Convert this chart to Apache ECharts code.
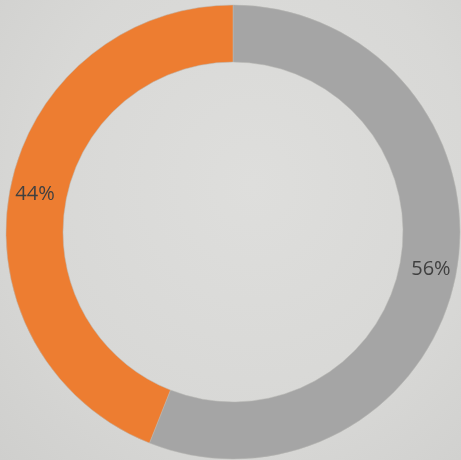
<!DOCTYPE html>
<html>
<head>
<meta charset="utf-8">
<script src="https://cdn.jsdelivr.net/npm/echarts@6/dist/echarts.min.js"></script>
<style>
  html, body { margin: 0; padding: 0; }
  body {
    width: 461px; height: 460px; overflow: hidden;
    background: radial-gradient(ellipse at 55% 40%, #dededc 0%, #d8d8d6 60%, #cfcfcd 100%);
  }
  #chart { width: 461px; height: 460px; }
</style>
</head>
<body>
<div id="chart"></div>
<script>
// Share split shown as a ring, starting at 12 o'clock and running clockwise
const categories = ['B', 'A'];
const shares = [56, 44];
const colors = ['#A5A5A5', '#ED7D31'];

const chart = echarts.init(document.getElementById('chart'), null, { renderer: 'canvas' });

chart.setOption({
  animation: false,
  backgroundColor: 'transparent',
  series: [{
    type: 'pie',
    center: [233, 232],
    radius: [170, 227],
    startAngle: 90,
    clockwise: true,
    avoidLabelOverlap: false,
    label: {
      show: true,
      position: 'inside',
      formatter: p => p.value + '%',
      color: '#404040',
      fontFamily: 'Open Sans',
      fontSize: 20
    },
    labelLine: { show: false },
    emphasis: { disabled: true },
    data: categories.map((name, i) => ({
      name,
      value: shares[i],
      itemStyle: { color: colors[i], borderColor: '#b8b8b4', borderWidth: 0.5 }
    }))
  }]
});
</script>
</body>
</html>
